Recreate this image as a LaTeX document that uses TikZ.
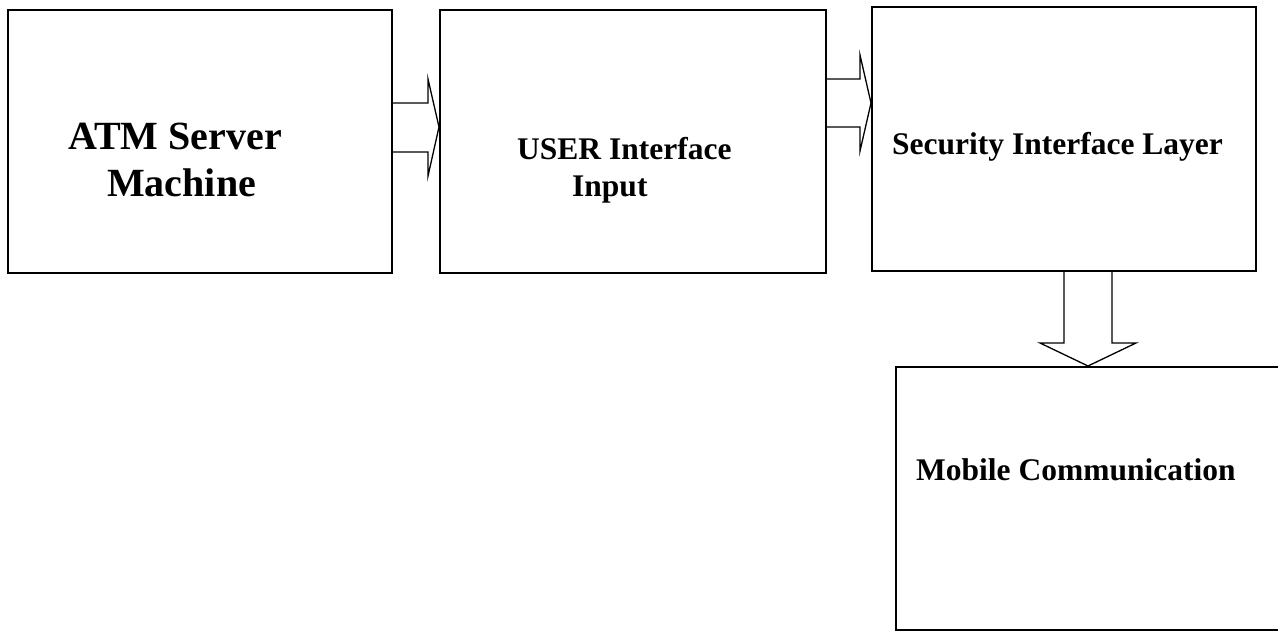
\documentclass[tikz,border=0pt]{standalone}
\usepackage{fontspec}
\setmainfont{Liberation Serif}
\begin{document}
\begin{tikzpicture}[x=1pt, y=-1pt,
    blok/.style={draw, line width=2pt, inner sep=0pt},
    fat/.style={draw, line width=1.3pt, line join=miter},
    big/.style={font=\bfseries\fontsize{40}{47}\selectfont, inner sep=0pt, anchor=base west},
    mid/.style={font=\bfseries\fontsize{31.5}{37}\selectfont, inner sep=0pt, anchor=base west}]
    \useasboundingbox (0,0) rectangle (1278,631);
    \clip (0,0) rectangle (1278,631);
    % boxes
    \node[blok, minimum width=384pt, minimum height=263pt] (atm) at (200,142) {};
    \node[blok, minimum width=386pt, minimum height=263pt] (user) at (633,142) {};
    \node[blok, minimum width=384pt, minimum height=264pt] (sec) at (1064,139) {};
    \node[blok, minimum width=388pt, minimum height=263pt] (mob) at (1090,498.5) {};
    % texts
    \node[big] (atmtop) at (68,150) {ATM Server};
    \node[big] (atmbot) at (107,197) {Machine};
    \node[mid] (usertop) at (517,160) {USER Interface};
    \node[mid] (userbot) at (572,197) {Input};
    \node[mid] (sectxt) at (892,155) {Security Interface Layer};
    \node[mid] (mobtxt) at (916,480) {Mobile Communication};
    % block arrows
    \draw[fat] (atm.east |- 0,103) -- (428,103) -- (428,79) -- (user.west |- 0,127)
        -- (428,176) -- (428,152) -- (atm.east |- 0,152);
    \draw[fat] (user.east |- 0,79) -- (860,79) -- (860,55) -- (sec.west |- 0,103)
        -- (860,151) -- (860,127) -- (user.east |- 0,127);
    \draw[fat] (sec.south -| 1064,0) -- (1064,343) -- (1040,343) -- (mob.north -| 1088,0)
        -- (1136,343) -- (1112,343) -- (sec.south -| 1112,0);
\end{tikzpicture}
\end{document}
